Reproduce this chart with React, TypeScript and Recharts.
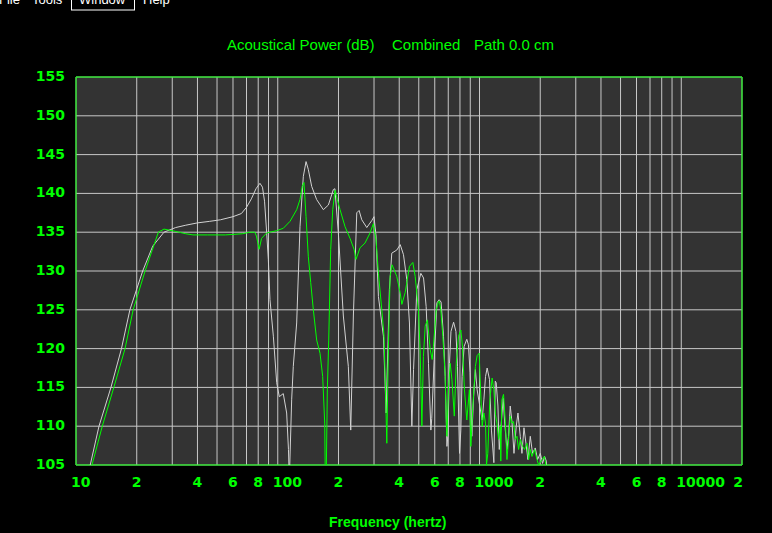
import { LineChart, Line, XAxis, YAxis, CartesianGrid, ReferenceArea } from 'recharts';

// frequency (Hz), level (dB)
const whiteCurve: [number, number][] = [
  [11.3, 103], [13.0, 110], [14.9, 115], [16.8, 120], [18.5, 125], [21.4, 130], [24.0, 133.2], [27.3, 135],
  [31.2, 135.6], [35, 135.9], [40, 136.2], [46, 136.4], [52, 136.6], [60, 137.0], [66, 137.4], [70, 138.2],
  [74, 139.3], [78, 140.6], [81.6, 141.3], [84, 140.8], [86, 139], [88.1, 135], [89.8, 131.5], [91.5, 126.3],
  [95.1, 121.6], [98.8, 115.6], [101.8, 113.8], [106.5, 114.2], [110.7, 111.7], [113, 107], [114.1, 103],
  [117.2, 113.4], [119.4, 117.7], [124.1, 123.3], [128.9, 135.7], [133.9, 142.2], [138.1, 144.1], [141.7, 143.1],
  [147.3, 140.9], [155.9, 139.2], [168.3, 137.9], [178.2, 138.5], [188.6, 140.5], [192, 140.6], [199.7, 134.9],
  [211.4, 124.2], [223.8, 117.7], [230, 109.5], [237, 124.2], [246.4, 137.5], [253, 137.8], [260.9, 136.6],
  [276.2, 135.6], [292.5, 136.5], [300, 137.0], [307, 134.5], [315.5, 126.7], [334, 121.6], [344.5, 111.7],
  [357.6, 127.6], [367.4, 132.3], [389, 132.7], [404.5, 133.4], [420, 132.1], [436, 128.9], [449.5, 123.3],
  [462, 110.0], [471, 117.3], [489, 127.6], [512, 129.7], [528, 129.1], [544, 125.4], [558.6, 118.1],
  [574, 109.5], [580, 111], [596, 118.6], [615, 125.9], [631, 126.3], [645, 126.0], [663, 121.6], [676, 116.4],
  [689.5, 107.4], [697, 108.7], [710, 118.1], [722, 122.2], [744, 123.4], [764, 122.2], [778, 117.7],
  [796, 106.5], [808, 109.5], [820, 116.4], [839, 120.3], [865, 121.2], [881, 120.5], [898, 116.9],
  [916, 108.7], [935, 113.8], [954, 117.3], [973, 114.7], [1003, 112.6], [1031, 110.8], [1051, 113.4],
  [1071, 116.4], [1091, 117.5], [1121, 116.0], [1146, 109.5], [1178, 105.3], [1197, 115.8], [1210, 115.6],
  [1234, 112.6], [1253, 107.0], [1282, 110.4], [1311, 113.6], [1330, 110.8], [1368, 107.0], [1393, 108.7],
  [1420, 112.6], [1448, 110.6], [1482, 106.5], [1521, 110.0], [1551, 111.7], [1592, 108.7], [1623, 106.5],
  [1661, 109.8], [1699, 107.8], [1738, 105.7], [1785, 108.7], [1832, 106.5], [1890, 107.2], [1940, 105.7],
  [2001, 106.5], [2054, 105.2], [2102, 106.1], [2143, 105.5], [2160, 104],
];

const greenCurve: [number, number][] = [
  [11.7, 103], [12.0, 105], [13.5, 110], [15.4, 115], [17.5, 120], [19.2, 125], [22.0, 130], [25.6, 135],
  [27.3, 135.4], [31.2, 135.1], [35, 134.8], [38, 134.65], [45, 134.65], [55, 134.65], [66.9, 134.8],
  [72.8, 135.0], [77, 135.0], [78.4, 134.5], [80.9, 132.8], [83.1, 134.2], [88.1, 134.9], [98.8, 135.2],
  [106.5, 135.5], [115, 136.4], [124.1, 137.9], [128.9, 139.2], [132.3, 140.9], [134.9, 141.4], [138.1, 137.0],
  [141.7, 131.9], [145.7, 128.5], [150.1, 125.0], [155.9, 121.1], [162, 119.4], [167, 116.4], [170.9, 110.4],
  [172.5, 100], [174, 104], [176.1, 114.7], [178.9, 121.1], [183, 132.8], [187.3, 137.9], [192.3, 140.4],
  [197.4, 139.2], [203.6, 137.9], [215.6, 135.7], [228.2, 134.2], [238.8, 132.8], [244.3, 131.5],
  [255.8, 133.0], [270.7, 133.6], [286.6, 134.9], [297.8, 136.1], [307, 134.0], [315.5, 129.7], [327.9, 125.0],
  [336.5, 121.6], [344.5, 111.3], [347.2, 107.8], [353.4, 119.9], [360.5, 129.3], [368.8, 130.8], [389, 129.3],
  [404.3, 127.2], [412.2, 125.7], [427.9, 127.2], [449.5, 130.6], [467.2, 131.1], [480, 129.3], [498, 125.0],
  [507.7, 119.9], [518, 110.0], [527.2, 119.0], [538, 122.9], [552, 123.7], [569.5, 119.9], [582.4, 118.6],
  [591, 120.3], [610, 125.0], [626, 126.1], [632.5, 126.1], [643, 125.0], [658, 121.6], [676, 116.4],
  [684, 110.8], [689.5, 108.7], [702.5, 115.1], [716, 118.1], [730, 116.0], [750, 111.3], [766.5, 118.1],
  [787, 121.6], [808, 122.4], [823, 120.3], [842, 114.7], [865, 110.8], [891, 114.7], [906, 107.4],
  [927, 112.6], [954, 117.7], [973, 119.1], [996, 119.4], [1012, 114.7], [1031, 110.0], [1051, 111.7],
  [1071, 110.4], [1083, 105], [1099, 106.5], [1125, 113.4], [1155, 116.2], [1178, 114.7], [1200, 111.5],
  [1220, 110.4], [1243, 108.3], [1267, 110.0], [1275, 105.5], [1291, 113.4], [1315, 114.1], [1341, 110.8],
  [1368, 105.7], [1393, 108.3], [1420, 111.3], [1448, 110.4], [1475, 110.6], [1504, 108.3], [1533, 108.7],
  [1562, 107.0], [1592, 108.3], [1634, 107.4], [1672, 107.0], [1719, 107.8], [1751, 105.7], [1785, 107.0],
  [1820, 106.1], [1875, 107.0], [1927, 105.7], [1963, 105], [2040, 105.7], [2094, 106.1], [2136, 105], [2150, 104],
];

const freqTicks = [
  10, 20, 30, 40, 50, 60, 70, 80, 90,
  100, 200, 300, 400, 500, 600, 700, 800, 900,
  1000, 2000, 3000, 4000, 5000, 6000, 7000, 8000, 9000,
  10000, 20000,
];

const freqLabels: Record<number, string> = {
  10: '10', 20: '2', 40: '4', 60: '6', 80: '8',
  100: '100', 200: '2', 400: '4', 600: '6', 800: '8',
  1000: '1000', 2000: '2', 4000: '4', 6000: '6', 8000: '8',
  10000: '10000', 20000: '2',
};

const dbTicks = [105, 110, 115, 120, 125, 130, 135, 140, 145, 150, 155];

const menuItems = ['File', 'Tools', 'Window', 'Help'];

const GREEN = '#00ff00';
const tickFont = { fontFamily: 'DejaVu Sans', fontWeight: 'bold' as const, fontSize: 14 };

const whiteData = whiteCurve.map(([f, db]) => ({ f, db }));
const greenData = greenCurve.map(([f, db]) => ({ f, db }));

const FreqTick = (props: any) => {
  const { x, payload } = props;
  const label = freqLabels[payload.value];
  if (!label) return <g />;
  const long = label.length > 1;
  const tx = payload.value === 20000 ? x - 4 : long ? x - 5 : x;
  return (
    <text x={tx} y={487} textAnchor={long ? 'start' : 'middle'} fill={GREEN} style={tickFont}>
      {label}
    </text>
  );
};

const DbTick = (props: any) => {
  const { y, payload } = props;
  return (
    <text x={65} y={y + 4} textAnchor="end" fill={GREEN} style={tickFont}>
      {payload.value}
    </text>
  );
};

export default function App() {
  const menuX = [-1, 32, 79, 143];
  return (
    <div style={{ position: 'absolute', left: 0, top: 0, width: 772, height: 533, background: '#000', overflow: 'hidden' }}>
      <LineChart width={772} height={533} data={whiteData} margin={{ top: 77, right: 30, bottom: 0, left: 0 }}>
        <CartesianGrid stroke="#c8c8c8" strokeWidth={1} fill="#333333" fillOpacity={1} />
        <XAxis
          dataKey="f"
          type="number"
          scale="log"
          domain={[10, 20000]}
          ticks={freqTicks}
          interval={0}
          allowDataOverflow
          height={68}
          axisLine={false}
          tickLine={false}
          tick={<FreqTick />}
        />
        <YAxis
          type="number"
          domain={[105, 155]}
          ticks={dbTicks}
          interval={0}
          allowDataOverflow
          width={76}
          axisLine={false}
          tickLine={false}
          tick={<DbTick />}
        />
        <Line data={whiteData} dataKey="db" stroke="#d2d2d2" strokeWidth={1} dot={false} isAnimationActive={false} />
        <Line data={greenData} dataKey="db" stroke={GREEN} strokeWidth={1} dot={false} isAnimationActive={false} />
        <ReferenceArea x1={10} x2={20000} y1={105} y2={155} fill="none" stroke={GREEN} strokeWidth={1} fillOpacity={0} />
      </LineChart>
      <svg width={772} height={533} style={{ position: 'absolute', left: 0, top: 0, pointerEvents: 'none' }}>
        {menuItems.map((m, i) => (
          <text key={m} x={menuX[i]} y={4} fill="#ffffff" style={{ fontFamily: 'Liberation Sans', fontSize: 13 }}>
            {m}
          </text>
        ))}
        <rect x={71.5} y={-5} width={63} height={15} fill="none" stroke="#ffffff" strokeWidth={1} />
        <g fill={GREEN} style={{ fontFamily: 'Liberation Sans', fontSize: 15 }}>
          <text x={227} y={50}>Acoustical Power (dB)</text>
          <text x={392} y={50}>Combined</text>
          <text x={474} y={50}>Path 0.0 cm</text>
        </g>
        <text x={329} y={527} fill={GREEN} style={{ fontFamily: 'Liberation Sans', fontSize: 14, fontWeight: 'bold' }}>
          Frequency (hertz)
        </text>
      </svg>
    </div>
  );
}
